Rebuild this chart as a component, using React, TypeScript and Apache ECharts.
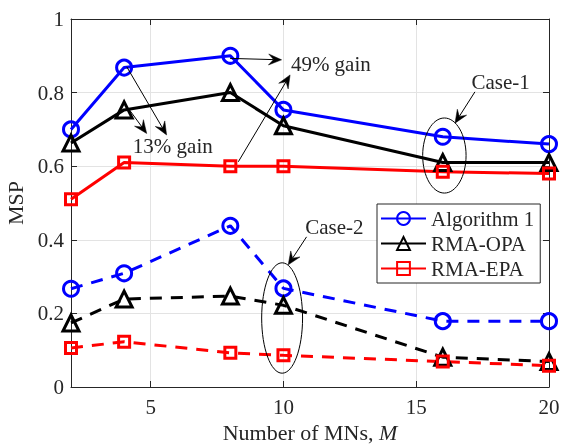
import React, { useEffect, useRef } from "react";
import * as echarts from "echarts";

const mValues = [2, 4, 8, 10, 16, 20];
const xTickValues = [5, 10, 15, 20];
const alg1Case1 = [0.7, 0.868, 0.9, 0.753, 0.68, 0.66];
const opaCase1 = [0.663, 0.753, 0.8, 0.71, 0.61, 0.61];
const epaCase1 = [0.51, 0.61, 0.6, 0.6, 0.585, 0.58];
const alg1Case2 = [0.267, 0.309, 0.438, 0.268, 0.179, 0.179];
const opaCase2 = [0.174, 0.239, 0.247, 0.222, 0.081, 0.069];
const epaCase2 = [0.106, 0.123, 0.093, 0.086, 0.069, 0.058];
const legendNames = ["Algorithm 1", "RMA-OPA", "RMA-EPA"];

// annotation anchors in data coordinates
const arrowList = [
  { from: [4.1, 0.87], to: [5.6, 0.685] },
  { from: [4.16, 0.757], to: [4.85, 0.689] },
  { from: [7.99, 0.893], to: [9.93, 0.889] },
  { from: [8.3, 0.612], to: [10.25, 0.848] },
  { from: [17.21, 0.802], to: [16.46, 0.717] },
  { from: [10.87, 0.408], to: [10.18, 0.332] },
];
const noteList = [
  { text: "13% gain", at: [4.33, 0.655] },
  { text: "49% gain", at: [10.28, 0.878] },
  { text: "Case-1", at: [17.08, 0.829] },
  { text: "Case-2", at: [10.82, 0.436] },
];
const ellipseList = [
  { center: [16.06, 0.629], rx: 0.817, ry: 0.102 },
  { center: [9.95, 0.1875], rx: 0.77, ry: 0.15 },
];

const FONT = "'Liberation Serif', serif";
const TXT = "#262626";

function zip(ys: number[]) {
  return mValues.map((x, i) => [x, ys[i]]);
}

export default function App() {
  const ref = useRef<HTMLDivElement>(null);
  useEffect(() => {
    if (!ref.current) return;
    const chart = echarts.init(ref.current, null, { renderer: "svg" });
    const mk = (
      name: string,
      ys: number[],
      color: string,
      symbol: string,
      size: number,
      dashed: boolean
    ) => ({
      type: "line",
      name,
      data: zip(ys),
      symbol,
      symbolSize: size,
      showAllSymbol: true,
      clip: false,
      lineStyle: { color, width: 3, type: dashed ? [12, 9] : "solid" },
      itemStyle: { color: "rgba(255,255,255,0)", borderColor: color, borderWidth: 3 },
      emphasis: { disabled: true },
      z: 3,
    });
    const triangle = "path://M0,10 L5,0 L10,10 Z";
    const option: any = {
      animation: false,
      textStyle: { fontFamily: FONT, color: TXT },
      grid: { left: 71, top: 19, right: 12, bottom: 57, outerBoundsMode: "none", containLabel: false },
      xAxis: [
        {
          type: "value",
          min: 2,
          max: 20,
          name: "{a|Number of MNs, }{b|M}",
          nameLocation: "middle",
          nameGap: 31,
          nameTextStyle: {
            rich: {
              a: { fontFamily: FONT, fontSize: 22, lineHeight: 22, color: TXT },
              b: { fontFamily: FONT, fontSize: 22, lineHeight: 22, color: TXT, fontStyle: "italic" },
            },
          },
          axisLine: { onZero: false, lineStyle: { color: TXT, width: 1 } },
          axisTick: { inside: true, length: 6, customValues: xTickValues, lineStyle: { color: TXT } },
          axisLabel: { customValues: xTickValues, fontFamily: FONT, fontSize: 21, color: TXT, margin: 9 },
          splitLine: { show: true, lineStyle: { color: "#e3e3e3", width: 1 } },
        },
        {
          type: "value",
          position: "top",
          min: 2,
          max: 20,
          axisLine: { onZero: false, lineStyle: { color: TXT, width: 1 } },
          axisTick: { inside: true, length: 6, customValues: xTickValues, lineStyle: { color: TXT } },
          axisLabel: { show: false },
          splitLine: { show: false },
        },
      ],
      yAxis: [
        {
          type: "value",
          min: 0,
          max: 1,
          interval: 0.2,
          name: "MSP",
          nameLocation: "middle",
          nameGap: 42,
          nameTextStyle: { fontFamily: FONT, fontSize: 22, color: TXT },
          axisLine: { show: true, onZero: false, lineStyle: { color: TXT, width: 1 } },
          axisTick: { show: true, inside: true, length: 6, lineStyle: { color: TXT } },
          axisLabel: { fontFamily: FONT, fontSize: 21, color: TXT, margin: 7 },
          splitLine: { show: true, lineStyle: { color: "#e3e3e3", width: 1 } },
        },
        {
          type: "value",
          position: "right",
          min: 0,
          max: 1,
          interval: 0.2,
          axisLine: { show: true, onZero: false, lineStyle: { color: TXT, width: 1 } },
          axisTick: { show: true, inside: true, length: 6, lineStyle: { color: TXT } },
          axisLabel: { show: false },
          splitLine: { show: false },
        },
      ],
      legend: {
        data: legendNames,
        orient: "vertical",
        left: 377,
        top: 204,
        itemWidth: 45,
        itemHeight: 16,
        itemGap: 4,
        padding: [4, 6, 4, 3],
        backgroundColor: "#fff",
        borderColor: TXT,
        borderWidth: 1,
        textStyle: { fontFamily: FONT, fontSize: 21, color: TXT },
      },
      series: [
        mk("Algorithm 1", alg1Case1, "#0000ff", "circle", 15, false),
        mk("RMA-OPA", opaCase1, "#000000", triangle, 16, false),
        mk("RMA-EPA", epaCase1, "#ff0000", "rect", 11, false),
        mk("Algorithm 1 (case 2)", alg1Case2, "#0000ff", "circle", 15, true),
        mk("RMA-OPA (case 2)", opaCase2, "#000000", triangle, 16, true),
        mk("RMA-EPA (case 2)", epaCase2, "#ff0000", "rect", 11, true),
      ],
    };
    chart.setOption(option);

    const px = (p: number[]) => chart.convertToPixel({ seriesIndex: 0 }, p) as number[];
    const graphics: any[] = [];
    arrowList.forEach((a) => {
      const s = px(a.from);
      const t = px(a.to);
      const dx = t[0] - s[0];
      const dy = t[1] - s[1];
      const len = Math.hypot(dx, dy);
      const ux = dx / len;
      const uy = dy / len;
      const nx = -uy;
      const ny = ux;
      const L = 13;
      const W = 5.5;
      const notch = 8;
      const back = [t[0] - L * ux, t[1] - L * uy];
      const inner = [t[0] - notch * ux, t[1] - notch * uy];
      graphics.push({
        type: "line",
        z: 100,
        shape: { x1: s[0], y1: s[1], x2: inner[0], y2: inner[1] },
        style: { stroke: "#000", lineWidth: 1 },
      });
      graphics.push({
        type: "polygon",
        z: 100,
        shape: {
          points: [
            [t[0], t[1]],
            [back[0] + W * nx, back[1] + W * ny],
            [inner[0], inner[1]],
            [back[0] - W * nx, back[1] - W * ny],
          ],
        },
        style: { fill: "#000", stroke: "#000", lineWidth: 0.5 },
      });
    });
    ellipseList.forEach((e) => {
      const c = px(e.center);
      const r = px([e.center[0] + e.rx, e.center[1] + e.ry]);
      graphics.push({
        type: "ellipse",
        z: 100,
        shape: { cx: c[0], cy: c[1], rx: Math.abs(r[0] - c[0]), ry: Math.abs(r[1] - c[1]) },
        style: { fill: "none", stroke: "#000", lineWidth: 1 },
      });
    });
    noteList.forEach((n) => {
      const p = px(n.at);
      graphics.push({
        type: "text",
        z: 100,
        x: p[0],
        y: p[1],
        style: {
          text: n.text,
          fontFamily: FONT,
          fontSize: 21,
          fill: TXT,
          textAlign: "left",
          textVerticalAlign: "middle",
        },
      });
    });
    chart.setOption({ graphic: graphics });

    return () => chart.dispose();
  }, []);
  return (
    <div
      ref={ref}
      style={{ position: "fixed", left: 0, top: 0, width: 561, height: 444 }}
    />
  );
}
